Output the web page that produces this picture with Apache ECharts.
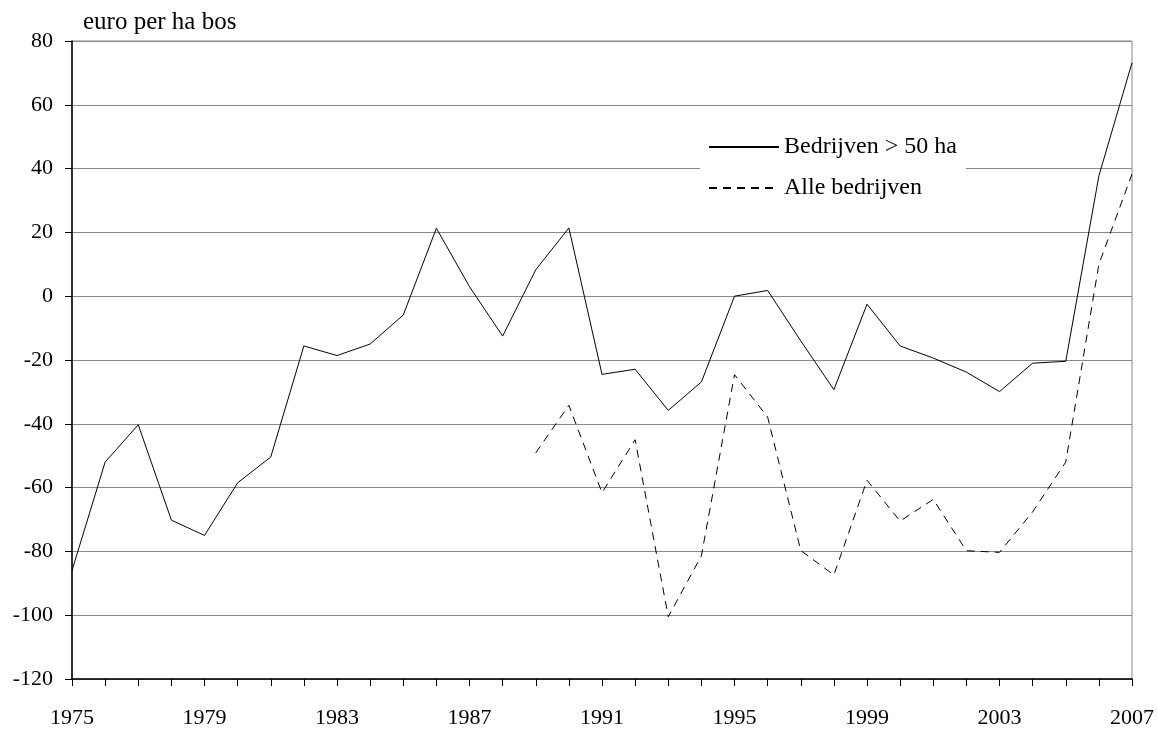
<!DOCTYPE html>
<html>
<head>
<meta charset="utf-8">
<script src="https://cdn.jsdelivr.net/npm/echarts@6/dist/echarts.min.js"></script>
<style>html,body{margin:0;padding:0;background:#fff;}#c{width:1158px;height:729px;}</style>
</head>
<body>
<div id="c"></div>
<script>
const years = ['1975','1976','1977','1978','1979','1980','1981','1982','1983','1984','1985','1986','1987','1988','1989','1990','1991','1992','1993','1994','1995','1996','1997','1998','1999','2000','2001','2002','2003','2004','2005','2006','2007'];
const bedrijven50 = [-86,-52,-40.3,-70.2,-75,-58.5,-50.4,-15.6,-18.6,-15,-5.9,21.3,3,-12.5,8.3,21.4,-24.5,-22.9,-35.8,-26.9,0,1.8,-14,-29.3,-2.5,-15.6,-19.4,-23.8,-29.9,-21,-20.4,37.7,73.2];
const alleBedrijven = [null,null,null,null,null,null,null,null,null,null,null,null,null,null,-49.1,-34.2,-61.6,-45,-100.5,-81.4,-24.6,-37.9,-79.7,-87.4,-57.7,-70.5,-63.7,-79.8,-80.3,-67.6,-52,10,38.3];
const seriesNames = ['Bedrijven > 50 ha','Alle bedrijven'];
const yTicks = {min:-120, max:80, interval:20};
const unitLabel = 'euro per ha bos';

const font = 'Liberation Serif';
const chart = echarts.init(document.getElementById('c'));
chart.setOption({
  animation:false,
  backgroundColor:'#fff',
  textStyle:{fontFamily:font},
  title:{text:unitLabel,left:78,top:5,textStyle:{fontFamily:font,fontSize:25,fontWeight:'normal',color:'#000'}},
  grid:{left:72,right:26,top:41,bottom:49,show:true,borderColor:'#888',borderWidth:1,backgroundColor:'transparent'},
  legend:{
    data:seriesNames,orient:'vertical',left:700,top:127,
    backgroundColor:'#fff',padding:[8,9,8,8],
    itemWidth:70,itemHeight:20,itemGap:17,
    itemStyle:{opacity:0},
    textStyle:{fontFamily:font,fontSize:24,color:'#000'}
  },
  xAxis:{
    type:'category',data:years,boundaryGap:false,
    axisLine:{onZero:false,lineStyle:{color:'#000',width:1.5}},
    axisTick:{show:true,interval:0,length:7,lineStyle:{color:'#000'}},
    axisLabel:{interval:3,color:'#000',fontSize:22,fontFamily:font,margin:28},
    splitLine:{show:false}
  },
  yAxis:{
    type:'value',min:yTicks.min,max:yTicks.max,interval:yTicks.interval,
    axisLine:{show:true,lineStyle:{color:'#000',width:1.5}},
    axisTick:{show:true,length:7,lineStyle:{color:'#000'}},
    axisLabel:{color:'#000',fontSize:22,fontFamily:font,margin:19},
    splitLine:{show:true,lineStyle:{color:'#888',width:1}}
  },
  series:[
    {name:seriesNames[0],type:'line',data:bedrijven50,symbol:'none',lineStyle:{color:'#000',width:1},itemStyle:{color:'#000'}},
    {name:seriesNames[1],type:'line',data:alleBedrijven,symbol:'none',connectNulls:false,lineStyle:{color:'#000',width:1,type:[8,6]},itemStyle:{color:'#000'}}
  ]
});
</script>
</body>
</html>
